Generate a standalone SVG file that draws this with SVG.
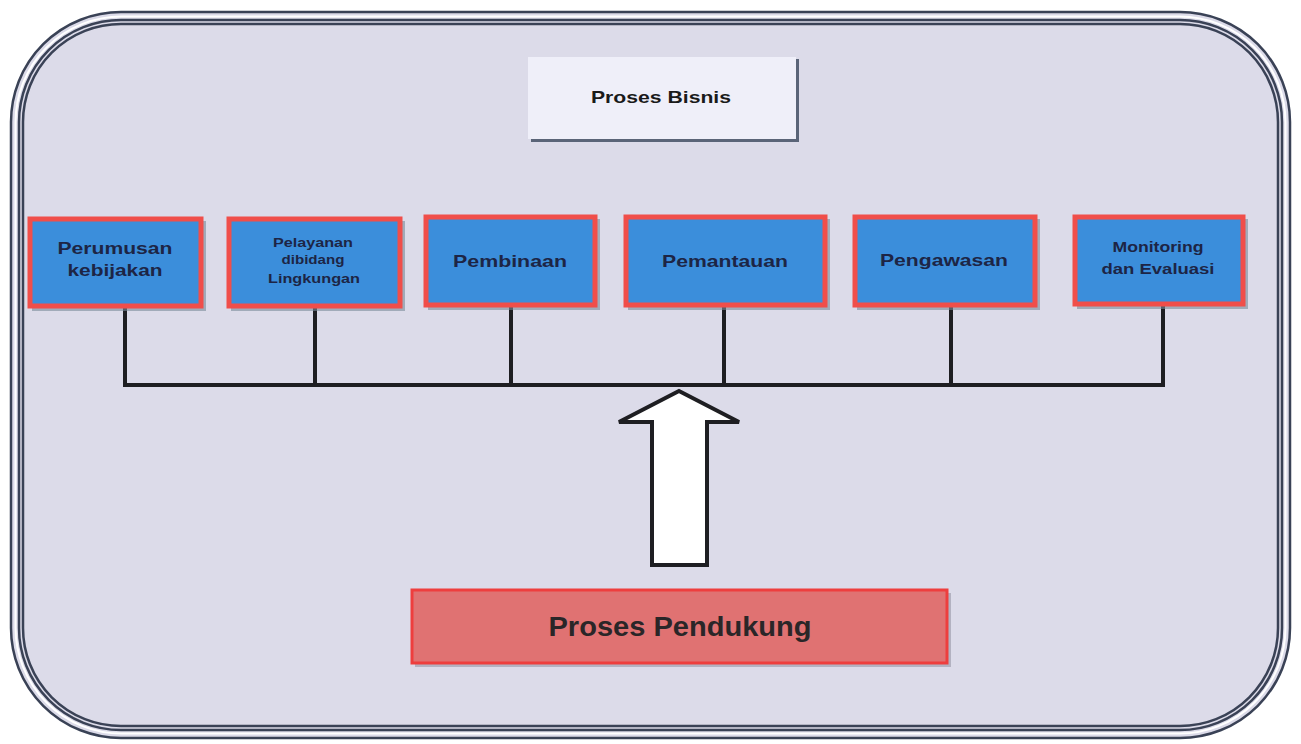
<svg xmlns="http://www.w3.org/2000/svg" width="1301" height="744" viewBox="0 0 1301 744">
<defs>
<style>
.frame{fill:none;stroke:#3a4256;stroke-width:2.5}
.node rect.b{fill:#3b8edb;stroke:#f04e4a;stroke-width:5}
.node rect.s{fill:#7a8a9a;opacity:0.6}
.t{font-family:"Liberation Sans",Arial,sans-serif;font-weight:bold;fill:#1d2545;text-anchor:middle;dominant-baseline:central}
.conn{stroke:#1e1e22;stroke-width:4;fill:none;stroke-linecap:square}
</style>
</defs>
<rect x="0" y="0" width="1301" height="744" fill="#ffffff"/>
<!-- outer frame -->
<rect x="11" y="12" width="1279" height="726" rx="110" ry="110" fill="#dcdbe9"/>
<rect class="frame" x="11" y="12" width="1279" height="726" rx="110" ry="110"/>
<rect x="15.5" y="16.5" width="1270" height="717" rx="106" ry="106" fill="none" stroke="#ffffff" stroke-width="2"/>
<rect class="frame" x="19" y="20" width="1263" height="710" rx="102" ry="102"/>
<rect class="frame" x="23" y="24" width="1255" height="702" rx="98" ry="98"/>

<g id="proses-bisnis">
<rect x="531" y="59" width="268" height="83" fill="#5a6478"/>
<rect x="528" y="57" width="268" height="82" fill="#efeff9"/>
<text class="t" x="661" y="97" font-size="17" textLength="140" lengthAdjust="spacingAndGlyphs" style="fill:#1a1a1a">Proses Bisnis</text>
</g>

<g id="connectors">
<line class="conn" x1="125" y1="308" x2="125" y2="385"/>
<line class="conn" x1="315" y1="308" x2="315" y2="385"/>
<line class="conn" x1="511" y1="308" x2="511" y2="385"/>
<line class="conn" x1="724" y1="308" x2="724" y2="385"/>
<line class="conn" x1="951" y1="308" x2="951" y2="385"/>
<line class="conn" x1="1163" y1="308" x2="1163" y2="385"/>
<line class="conn" x1="125" y1="385" x2="1163" y2="385"/>
<polygon points="679,391 739,422 707,422 707,565 652,565 652,422 619,422" fill="#ffffff" stroke="#1e1e22" stroke-width="4" stroke-linejoin="miter"/>
</g>

<g id="n1" class="node">
<rect class="s" x="32" y="221" width="174" height="90"/>
<rect class="b" x="30" y="219" width="171" height="87"/>
<text class="t" x="115" y="248" font-size="16" textLength="115" lengthAdjust="spacingAndGlyphs">Perumusan</text>
<text class="t" x="115" y="270" font-size="16" textLength="95" lengthAdjust="spacingAndGlyphs">kebijakan</text>
</g>
<g id="n2" class="node">
<rect class="s" x="231" y="221" width="174" height="90"/>
<rect class="b" x="229" y="219" width="171" height="87"/>
<text class="t" x="313" y="243" font-size="12" textLength="80" lengthAdjust="spacingAndGlyphs">Pelayanan</text>
<text class="t" x="313" y="260" font-size="12" textLength="63" lengthAdjust="spacingAndGlyphs">dibidang</text>
<text class="t" x="314" y="279" font-size="12" textLength="92" lengthAdjust="spacingAndGlyphs">Lingkungan</text>
</g>
<g id="n3" class="node">
<rect class="s" x="428" y="219" width="172" height="91"/>
<rect class="b" x="426" y="217" width="169" height="88"/>
<text class="t" x="510" y="261" font-size="17" textLength="114" lengthAdjust="spacingAndGlyphs">Pembinaan</text>
</g>
<g id="n4" class="node">
<rect class="s" x="628" y="219" width="202" height="91"/>
<rect class="b" x="626" y="217" width="199" height="88"/>
<text class="t" x="725" y="261" font-size="17" textLength="126" lengthAdjust="spacingAndGlyphs">Pemantauan</text>
</g>
<g id="n5" class="node">
<rect class="s" x="857" y="219" width="183" height="91"/>
<rect class="b" x="855" y="217" width="180" height="88"/>
<text class="t" x="944" y="260" font-size="17" textLength="128" lengthAdjust="spacingAndGlyphs">Pengawasan</text>
</g>
<g id="n6" class="node">
<rect class="s" x="1077" y="219" width="171" height="90"/>
<rect class="b" x="1075" y="217" width="168" height="87"/>
<text class="t" x="1158" y="247" font-size="14" textLength="91" lengthAdjust="spacingAndGlyphs">Monitoring</text>
<text class="t" x="1158" y="269" font-size="14" textLength="113" lengthAdjust="spacingAndGlyphs">dan Evaluasi</text>
</g>

<g id="proses-pendukung">
<rect x="415" y="593" width="536" height="74" fill="#8a8a9a" opacity="0.5"/>
<rect x="412" y="590" width="535" height="73" fill="#e07272" stroke="#ee3e3e" stroke-width="3"/>
<text class="t" x="680" y="627" font-size="27" textLength="263" lengthAdjust="spacingAndGlyphs" style="fill:#2a2628">Proses Pendukung</text>
</g>
</svg>
